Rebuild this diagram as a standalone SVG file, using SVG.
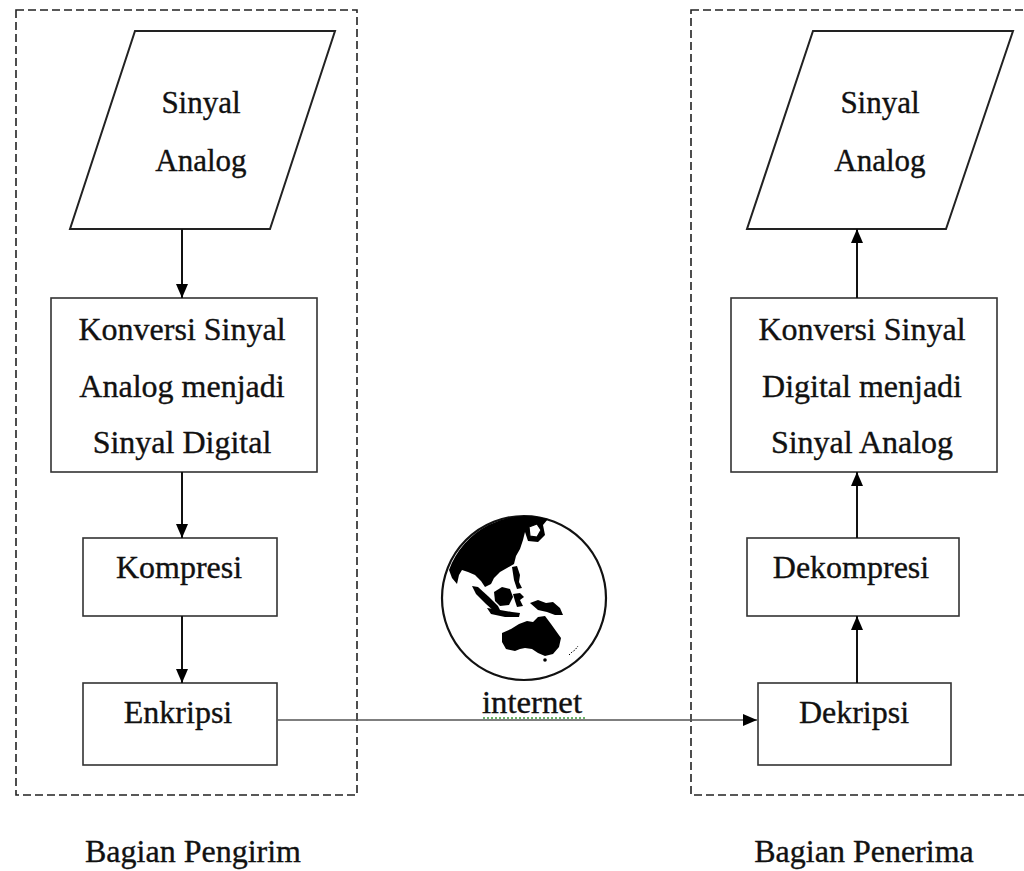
<svg xmlns="http://www.w3.org/2000/svg" width="1024" height="871" viewBox="0 0 1024 871">
  <defs>
    <style>
      .t { font-family: "Liberation Serif", "Times New Roman", serif; font-size: 31px; fill: #111; stroke: #111; stroke-width: 0.35; text-anchor: middle; }
      .big { font-size: 32px; }
      .frame { fill: none; stroke: #222; stroke-width: 1.6; stroke-dasharray: 8 4; }
      .shape { fill: #fff; stroke: #222; stroke-width: 2; }
      .box { fill: #fff; stroke: #333; stroke-width: 1.6; }
      .flow { fill: none; stroke: #111; stroke-width: 2; marker-end: url(#head); }
      .land { fill: #000; stroke: none; }
    </style>
    <marker id="head" viewBox="0 0 14 12" refX="14" refY="6" markerWidth="14" markerHeight="12" markerUnits="userSpaceOnUse" orient="auto">
      <path d="M0,0 L14,6 L0,12 Z" fill="#000"/>
    </marker>
  </defs>

  <rect width="1024" height="871" fill="#fff"/>

  <!-- sender / receiver frames -->
  <g id="frame-sender">
    <rect class="frame" x="16" y="10" width="341" height="785"/>
    <text class="t big" x="193" y="862">Bagian Pengirim</text>
  </g>
  <g id="frame-receiver">
    <rect class="frame" x="691" y="10" width="345" height="785"/>
    <text class="t big" x="864" y="862">Bagian Penerima</text>
  </g>

  <!-- sender side -->
  <g id="input-analog">
    <polygon class="shape" points="135,31 335,31 270,229 70,229"/>
    <text class="t" x="201" y="113">Sinyal</text>
    <text class="t" x="201" y="171">Analog</text>
  </g>
  <g id="adc">
    <rect class="box" x="51" y="298" width="266" height="174" stroke-width="2.2"/>
    <text class="t big" x="182" y="340">Konversi Sinyal</text>
    <text class="t big" x="182" y="397">Analog menjadi</text>
    <text class="t big" x="182" y="453">Sinyal Digital</text>
  </g>
  <g id="kompresi">
    <rect class="box" x="83" y="538" width="194" height="78"/>
    <text class="t big" x="179" y="578">Kompresi</text>
  </g>
  <g id="enkripsi">
    <rect class="box" x="83" y="683" width="194" height="82"/>
    <text class="t big" x="178" y="723">Enkripsi</text>
  </g>

  <!-- internet globe -->
  <g id="internet">
    <circle cx="524" cy="598" r="82" fill="#fff" stroke="#111" stroke-width="2.2"/>
    <!-- Asia -->
    <path class="land" d="M449,570 A82,82 0 0 1 548,519 L543,525 L545,535 L538,542 L528,541 L525,532 L523,540 L520,549 L516,556 L514,564 L507,568 L500,572 L494,578 L491,584 L485,587 L481,581 L475,575 L468,572 L462,570 L459,575 L457,584 L452,578 Z"/>
    <path d="M529,527 L537,524 L541,530 L537,537 L530,536 Z" fill="#fff" stroke="#000" stroke-width="1.2"/>
    <!-- Philippines -->
    <path class="land" d="M512,567 L517,566 L520,575 L519,582 L522,588 L517,589 L514,580 Z"/>
    <!-- Sumatra, Java -->
    <path class="land" d="M472,586 L478,587 L489,597 L498,606 L501,612 L496,613 L486,604 L476,594 Z"/>
    <path class="land" d="M487,608 L500,610 L512,612 L520,613 L519,617 L505,617 L491,614 Z"/>
    <!-- Borneo -->
    <path class="land" d="M494,592 L502,587 L510,589 L513,597 L509,605 L500,606 L495,601 Z"/>
    <!-- Sulawesi -->
    <path class="land" d="M513,594 L520,593 L524,597 L520,600 L523,606 L517,607 L515,601 Z"/>
    <!-- New Guinea -->
    <path class="land" d="M530,603 L538,600 L546,603 L553,602 L560,608 L563,615 L555,615 L547,612 L538,610 Z"/>
    <!-- Australia -->
    <path class="land" d="M502,633 L511,629 L519,624 L527,621 L533,622 L538,617 L545,616 L551,624 L556,631 L561,638 L559,647 L553,654 L545,656 L538,653 L532,649 L525,648 L520,649 L515,651 L506,649 L502,642 Z"/>
    <circle class="land" cx="545" cy="660" r="1.8"/>
    <path d="M569,655 L572,652 L575,650 L578,646" fill="none" stroke="#000" stroke-width="1" stroke-dasharray="1.5 1.5"/>
    <text class="t" x="532" y="713" font-size="27" textLength="100" lengthAdjust="spacingAndGlyphs">internet</text>
    <line x1="483" y1="718" x2="586" y2="718" stroke="#3a9a3a" stroke-width="1.6" stroke-dasharray="2 2"/>
  </g>

  <!-- receiver side -->
  <g id="output-analog">
    <polygon class="shape" points="813,31 1013,31 946,229 747,229"/>
    <text class="t" x="880" y="113">Sinyal</text>
    <text class="t" x="880" y="171">Analog</text>
  </g>
  <g id="dac">
    <rect class="box" x="731" y="298" width="266" height="174" stroke-width="2.2"/>
    <text class="t big" x="862" y="340">Konversi Sinyal</text>
    <text class="t big" x="862" y="397">Digital menjadi</text>
    <text class="t big" x="862" y="453">Sinyal Analog</text>
  </g>
  <g id="dekompresi">
    <rect class="box" x="747" y="538" width="212" height="78"/>
    <text class="t big" x="851" y="578">Dekompresi</text>
  </g>
  <g id="dekripsi">
    <rect class="box" x="758" y="683" width="193" height="82"/>
    <text class="t big" x="854" y="723">Dekripsi</text>
  </g>

  <!-- connectors -->
  <g id="connectors">
    <line class="flow" x1="182" y1="229" x2="182" y2="298"/>
    <line class="flow" x1="182" y1="472" x2="182" y2="538"/>
    <line class="flow" x1="182" y1="616" x2="182" y2="683"/>
    <path d="M277,720 L757,720" fill="none" stroke="#555" stroke-width="1.6" marker-end="url(#head)"/>
    <line class="flow" x1="857" y1="683" x2="857" y2="616"/>
    <line class="flow" x1="857" y1="538" x2="857" y2="472"/>
    <line class="flow" x1="857" y1="298" x2="857" y2="229"/>
  </g>
</svg>
